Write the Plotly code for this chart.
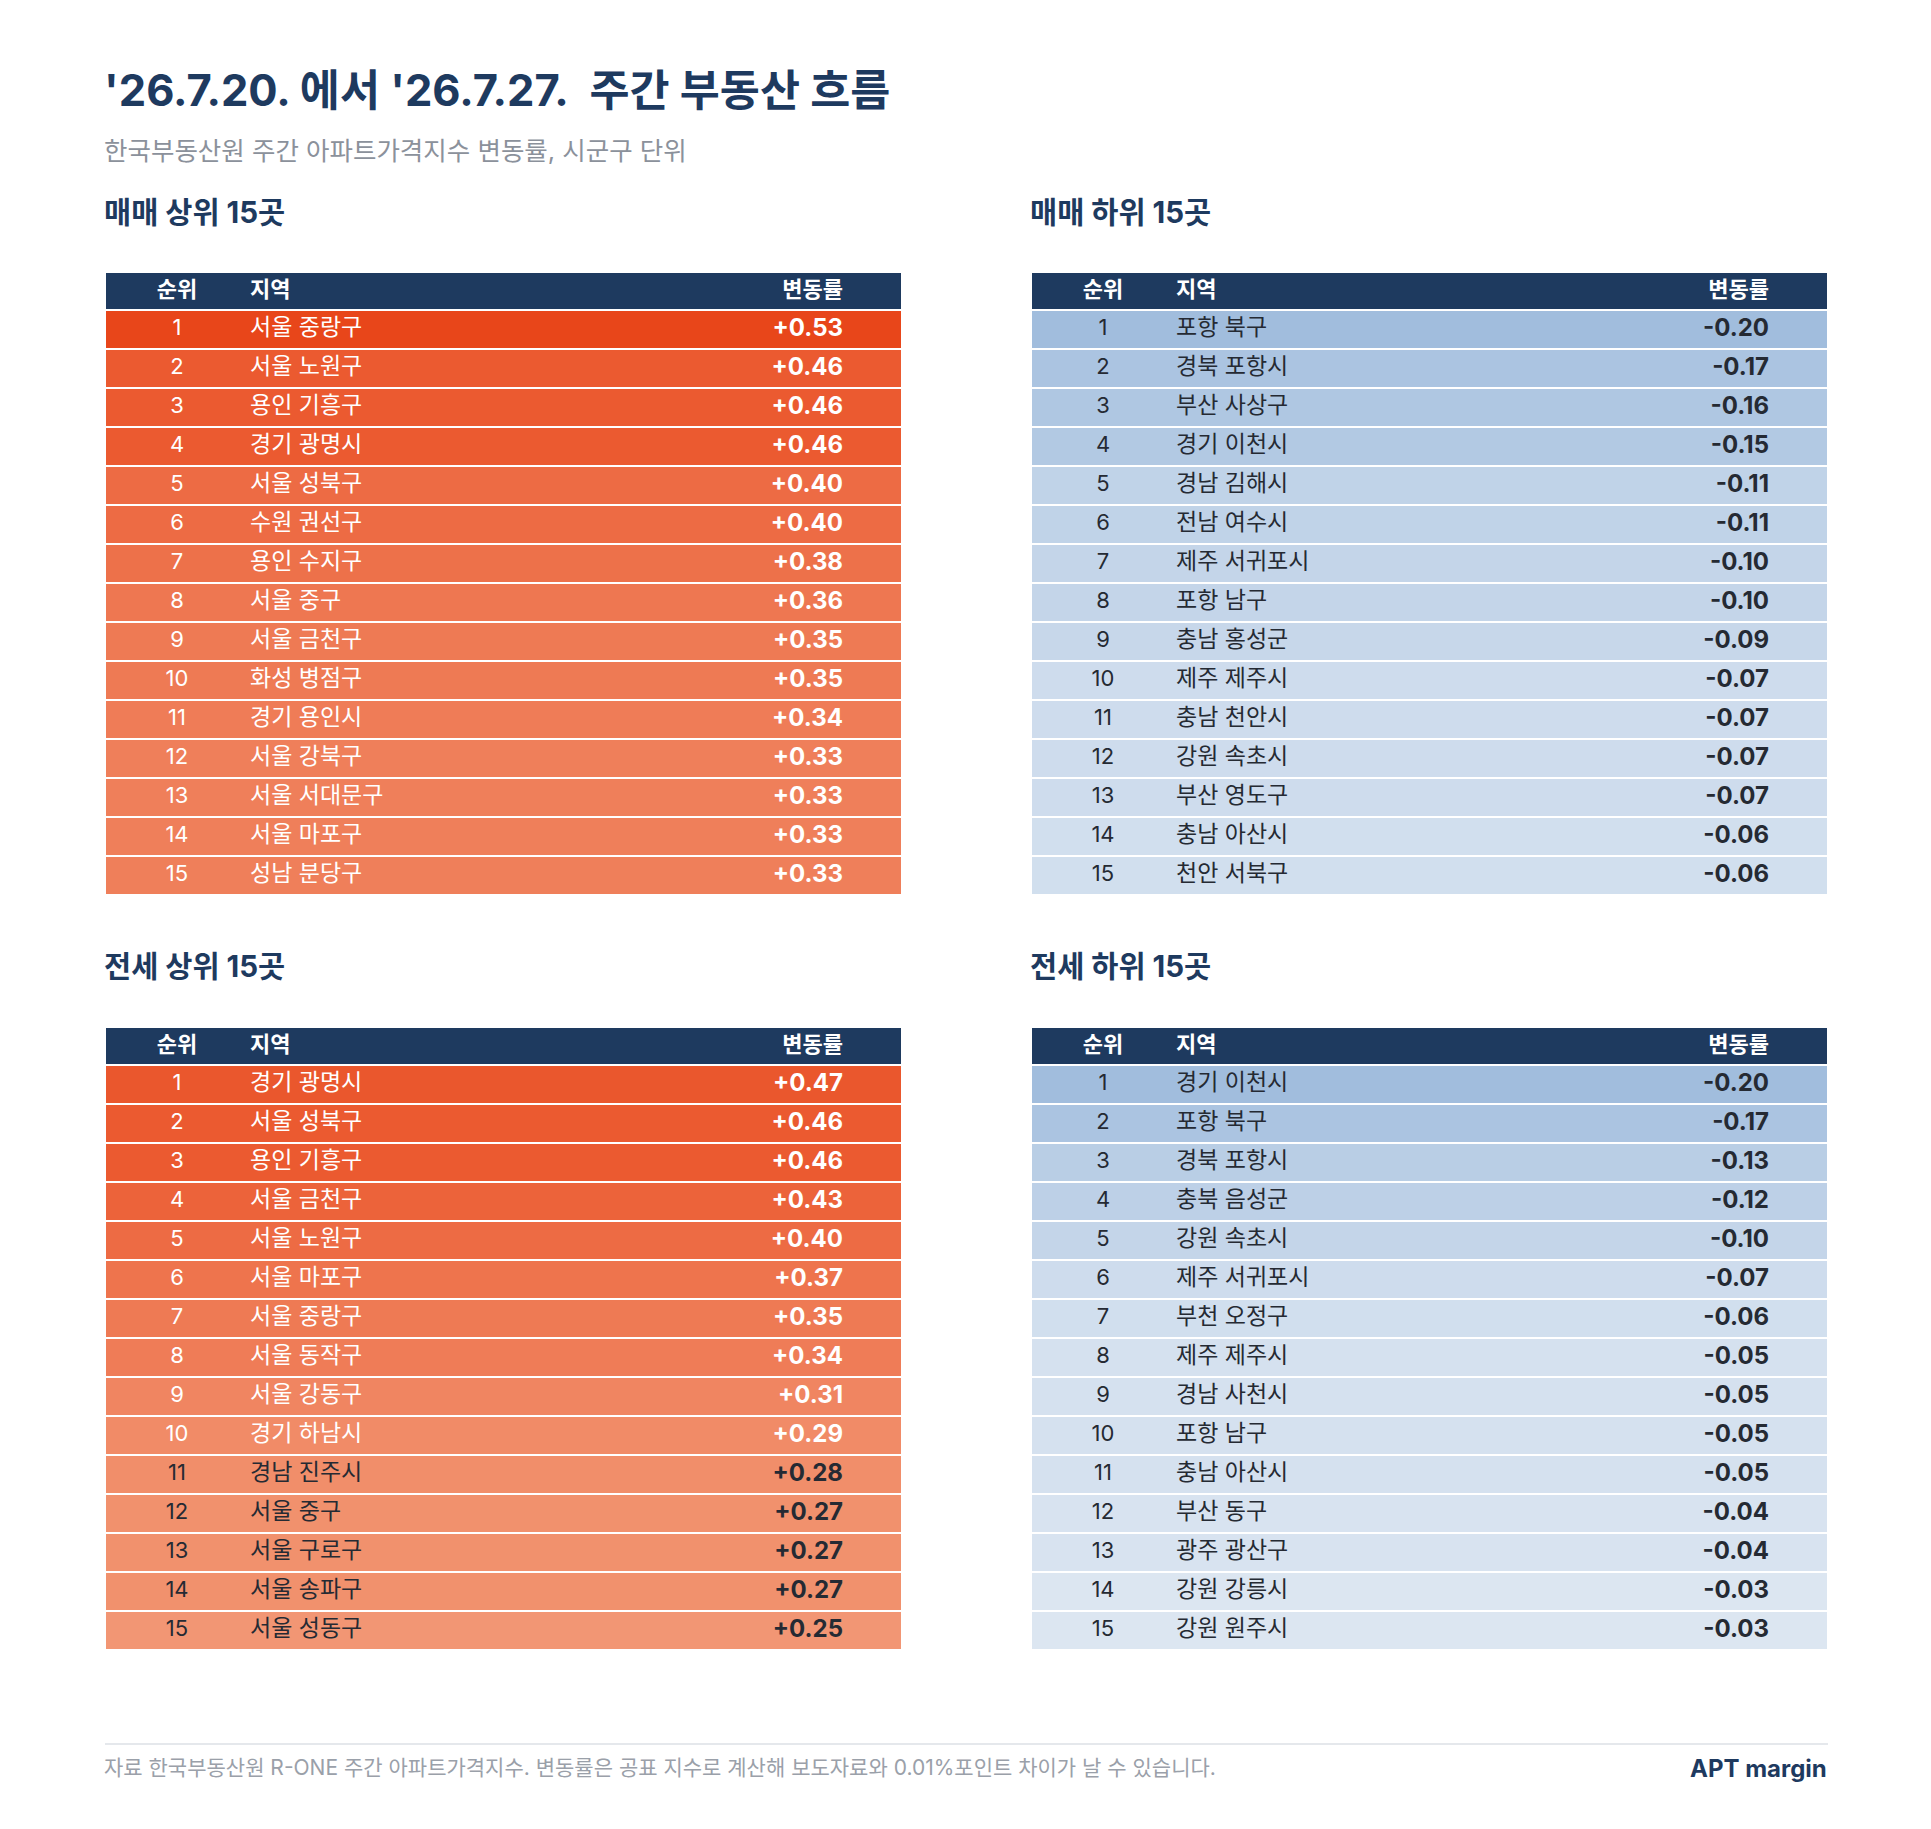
import plotly.graph_objects as go
from plotly.colors import find_intermediate_color, hex_to_rgb, label_rgb

W, H = 1931, 1829

TITLE = "'26.7.20. 에서 '26.7.27.\u00a0\u00a0주간 부동산 흐름"
SUBTITLE = "한국부동산원 주간 아파트가격지수 변동률, 시군구 단위"
FOOTNOTE = "자료 한국부동산원 R-ONE 주간 아파트가격지수. 변동률은 공표 지수로 계산해 보도자료와 0.01%포인트 차이가 날 수 있습니다."
BRAND = "APT margin"
HEADERS = ["순위", "지역", "변동률"]
RANKS = [1, 2, 3, 4, 5, 6, 7, 8, 9, 10, 11, 12, 13, 14, 15]

# 매매 상위 / 하위
sale_up_title = "매매 상위 15곳"
sale_up_regions = ["서울 중랑구", "서울 노원구", "용인 기흥구", "경기 광명시", "서울 성북구",
                   "수원 권선구", "용인 수지구", "서울 중구", "서울 금천구", "화성 병점구",
                   "경기 용인시", "서울 강북구", "서울 서대문구", "서울 마포구", "성남 분당구"]
sale_up_values = [0.53, 0.46, 0.46, 0.46, 0.40, 0.40, 0.38, 0.36, 0.35, 0.35,
                  0.34, 0.33, 0.33, 0.33, 0.33]

sale_down_title = "매매 하위 15곳"
sale_down_regions = ["포항 북구", "경북 포항시", "부산 사상구", "경기 이천시", "경남 김해시",
                     "전남 여수시", "제주 서귀포시", "포항 남구", "충남 홍성군", "제주 제주시",
                     "충남 천안시", "강원 속초시", "부산 영도구", "충남 아산시", "천안 서북구"]
sale_down_values = [-0.20, -0.17, -0.16, -0.15, -0.11, -0.11, -0.10, -0.10, -0.09, -0.07,
                    -0.07, -0.07, -0.07, -0.06, -0.06]

# 전세 상위 / 하위
rent_up_title = "전세 상위 15곳"
rent_up_regions = ["경기 광명시", "서울 성북구", "용인 기흥구", "서울 금천구", "서울 노원구",
                   "서울 마포구", "서울 중랑구", "서울 동작구", "서울 강동구", "경기 하남시",
                   "경남 진주시", "서울 중구", "서울 구로구", "서울 송파구", "서울 성동구"]
rent_up_values = [0.47, 0.46, 0.46, 0.43, 0.40, 0.37, 0.35, 0.34, 0.31, 0.29,
                  0.28, 0.27, 0.27, 0.27, 0.25]

rent_down_title = "전세 하위 15곳"
rent_down_regions = ["경기 이천시", "포항 북구", "경북 포항시", "충북 음성군", "강원 속초시",
                     "제주 서귀포시", "부천 오정구", "제주 제주시", "경남 사천시", "포항 남구",
                     "충남 아산시", "부산 동구", "광주 광산구", "강원 강릉시", "강원 원주시"]
rent_down_values = [-0.20, -0.17, -0.13, -0.12, -0.10, -0.07, -0.06, -0.05, -0.05, -0.05,
                    -0.05, -0.04, -0.04, -0.03, -0.03]

FONT = "Inter, Noto Sans CJK KR, sans-serif"
NAVY = "#1e3a5f"
GRAY = "#8b919b"
DARK_TEXT = "#252a33"
ORANGE = ("#fbdec4", "#e8461a")
BLUE = ("#e6edf5", "#a1bddd")
WHITE_TEXT_MIN = 0.285

# layout in pixels
LEFT, RIGHT_X = 105, 1031
TABLE_W = 797
HEAD_H, ROW_H = 38, 39
SECTION_Y = [212, 966]
TABLE_Y = [272, 1027]
NUDGE = 3  # annotation text padding

up_max = max(sale_up_values + rent_up_values)
down_max = max(abs(v) for v in sale_down_values + rent_down_values)


def shade(v, pair, vmax):
    lo, hi = hex_to_rgb(pair[0]), hex_to_rgb(pair[1])
    c = find_intermediate_color(lo, hi, min(abs(v) / vmax, 1), colortype="tuple")
    return label_rgb(tuple(round(x) for x in c))


def add_table(fig, title, regions, values, x0, sec_y, top, pair, vmax, positive):
    n = len(regions)
    fills = [shade(v, pair, vmax) for v in values]
    if positive:
        txt = ["white" if v >= WHITE_TEXT_MIN else DARK_TEXT for v in values]
    else:
        txt = [DARK_TEXT] * n
    dom = dict(x=[x0 / W, (x0 + TABLE_W) / W],
               y=[1 - (top + HEAD_H + ROW_H * n + 40) / H, 1 - top / H])

    # background: fills and white row separators
    fig.add_trace(go.Table(
        domain=dom, columnwidth=[1],
        header=dict(values=[""], fill_color=NAVY, height=HEAD_H,
                    line=dict(color="white", width=2)),
        cells=dict(values=[[""] * n], fill_color=[fills], height=ROW_H,
                   line=dict(color="white", width=2)),
    ))
    # foreground: text only
    blank = [""] * n
    aligns = ["center", "center", "left", "right", "center"]
    fig.add_trace(go.Table(
        domain=dom, columnwidth=[7, 130, 459, 150, 51],
        header=dict(values=[""] + HEADERS + [""],
                    fill_color="rgba(0,0,0,0)", line=dict(width=0), height=HEAD_H,
                    align=aligns,
                    font=dict(family=FONT, size=22, color="white", weight=700)),
        cells=dict(values=[blank, RANKS, regions, ["%+.2f" % v for v in values], blank],
                   fill_color="rgba(0,0,0,0)", line=dict(width=0), height=ROW_H,
                   align=aligns,
                   font=dict(family=FONT, size=[22, 22, 23, 24, 22], color=[txt] * 5,
                             weight=[400, 400, 400, 700, 400])),
    ))
    fig.add_annotation(x=(x0 - NUDGE) / W, y=1 - sec_y / H, xref="paper", yref="paper",
                       xanchor="left", yanchor="middle", showarrow=False,
                       text="<b>%s</b>" % title,
                       font=dict(family=FONT, size=29.5, color=NAVY))


fig = go.Figure()
add_table(fig, sale_up_title, sale_up_regions, sale_up_values, LEFT, SECTION_Y[0], TABLE_Y[0], ORANGE, up_max, True)
add_table(fig, sale_down_title, sale_down_regions, sale_down_values, RIGHT_X, SECTION_Y[0], TABLE_Y[0], BLUE, down_max, False)
add_table(fig, rent_up_title, rent_up_regions, rent_up_values, LEFT, SECTION_Y[1], TABLE_Y[1], ORANGE, up_max, True)
add_table(fig, rent_down_title, rent_down_regions, rent_down_values, RIGHT_X, SECTION_Y[1], TABLE_Y[1], BLUE, down_max, False)

fig.add_annotation(x=(LEFT - NUDGE) / W, y=1 - 90 / H, xref="paper", yref="paper",
                   xanchor="left", yanchor="middle", showarrow=False,
                   text="<b>%s</b>" % TITLE, font=dict(family=FONT, size=43.5, color=NAVY))
fig.add_annotation(x=(LEFT - NUDGE) / W, y=1 - 150 / H, xref="paper", yref="paper",
                   xanchor="left", yanchor="middle", showarrow=False,
                   text=SUBTITLE, font=dict(family=FONT, size=25.5, color=GRAY))

# footer
fig.add_shape(type="line", xref="paper", yref="paper",
              x0=LEFT / W, x1=(RIGHT_X + TABLE_W) / W, y0=1 - 1744 / H, y1=1 - 1744 / H,
              line=dict(color="#e5e8ec", width=2))
fig.add_annotation(x=(LEFT - NUDGE) / W, y=1 - 1767 / H, xref="paper", yref="paper",
                   xanchor="left", yanchor="middle", showarrow=False,
                   text=FOOTNOTE, font=dict(family=FONT, size=21, color="#9aa0a9"))
fig.add_annotation(x=(RIGHT_X + TABLE_W + 1) / W, y=1 - 1768 / H, xref="paper", yref="paper",
                   xanchor="right", yanchor="middle", showarrow=False,
                   text="<b>%s</b>" % BRAND, font=dict(family=FONT, size=24, color=NAVY))

fig.update_layout(width=W, height=H, margin=dict(l=0, r=0, t=0, b=0),
                  paper_bgcolor="white", plot_bgcolor="white",
                  font=dict(family=FONT), showlegend=False)

fig.write_html("out.html", config={"displayModeBar": False},
               post_script="document.body.style.margin='0px';")
